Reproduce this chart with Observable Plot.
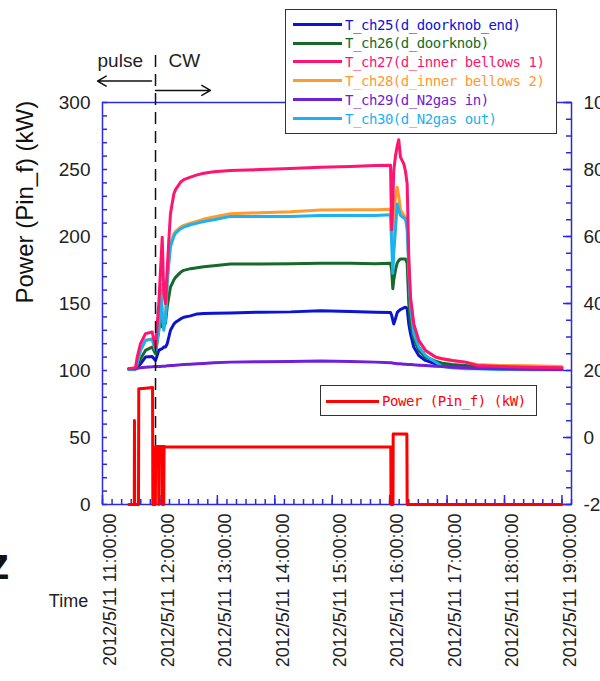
<!DOCTYPE html>
<html><head><meta charset="utf-8">
<script src="https://cdn.jsdelivr.net/npm/d3@7"></script>
<script src="https://cdn.jsdelivr.net/npm/@observablehq/plot@0.6"></script>
<style>
body{margin:0;background:#fff;}
#wrap{position:relative;width:600px;height:681px;overflow:hidden;font-family:"Liberation Sans",Arial,sans-serif;}
.box{position:absolute;background:#fff;border:1.5px solid #333;box-sizing:border-box;}
.sw{position:absolute;height:3px;}
.lab{position:absolute;font-family:"DejaVu Sans Mono",monospace;font-size:14px;line-height:14px;letter-spacing:-0.45px;white-space:nowrap;}
</style></head><body><div id="wrap"></div>
<script>
// ---------- data ----------
const seriesNames = ["T_ch25(d_doorknob_end)","T_ch26(d_doorknob)","T_ch27(d_inner bellows 1)","T_ch28(d_inner bellows 2)","T_ch29(d_N2gas in)","T_ch30(d_N2gas out)"];
const seriesColors = ["#0a14d2","#17692a","#ff1470","#ff9a30","#7020d8","#1ab2ef"];
// minutes after 2012/5/11 11:00:00
const tempMinutes = [27.5,34.5,36.3,39.7,44.9,51.9,55.4,58.8,60.6,62.4,64.0,65.8,67.6,69.3,71.0,74.5,76.3,81.5,84.9,91.9,98.9,105.8,116.3,133.7,165,196.4,227.7,259,285.2,300.9,302.1,303.3,304.3,306.1,307.9,309.5,311.3,314.8,316.5,318.3,320,321.8,325.2,330.4,337.4,347.9,354.9,365.3,379.2,391.4,415.8,447.1,480];
const ch25 = [20.3,20.4,20.8,22.0,24.0,24.2,23.0,26.0,26.3,26.5,27.0,27.0,28.0,30.0,32.0,33.8,34.4,35.4,35.9,36.3,36.9,37.0,37.1,37.2,37.4,37.5,37.8,37.6,37.4,37.3,36.5,35.0,33.9,35.5,37.3,37.8,38.2,38.7,38.9,38.5,33.9,31.0,27.0,24.5,23.0,22.0,21.5,21.2,21.0,20.7,20.5,20.4,20.3];
const ch26 = [20.5,20.6,21.5,23.5,26.0,27.0,25.0,32.0,37.9,33.0,36.0,34.0,39.0,42.0,44.9,47.0,47.8,49.3,49.9,50.4,50.7,51.0,51.3,51.8,51.8,51.9,52.0,52.0,51.9,52.0,50.0,44.4,47.0,50.0,52.1,52.8,53.3,53.3,53.3,52.0,39.9,33.9,29.5,26.0,24.0,22.8,22.2,21.8,21.5,21.2,21.0,20.9,20.8];
const ch27 = [20.5,20.8,24.0,28.0,31.0,31.5,27.0,39.9,49.9,59.8,43.0,40.0,50.0,59.0,66.8,72.7,74.0,76.2,77.0,77.7,78.4,78.9,79.3,79.7,80.0,80.3,80.7,80.9,81.2,81.3,62.0,70.0,79.7,84.0,87.0,88.9,83.7,81.7,79.5,75.7,53.8,41.9,33.9,29.0,26.0,24.0,23.5,23.0,22.5,21.5,21.2,21.0,20.8];
const ch28 = [20.5,20.6,22.5,26.0,29.0,29.5,26.0,33.0,45.9,38.0,33.0,36.0,46.9,53.0,57.8,60.8,61.5,62.8,63.3,64.0,64.6,65.2,65.8,66.8,67.1,67.4,67.9,68.0,68.0,68.1,60.0,56.0,64.0,72.0,74.7,72.0,68.0,66.3,65.8,65.3,52.0,41.0,33.5,28.8,26.0,24.0,23.5,23.0,22.5,21.8,21.5,21.4,21.2];
const ch29 = [20.5,20.6,20.7,20.8,21.0,21.1,21.2,21.2,21.2,21.3,21.3,21.3,21.4,21.4,21.5,21.5,21.6,21.7,21.8,21.9,22.0,22.1,22.3,22.5,22.6,22.7,22.8,22.7,22.5,22.3,22.3,22.2,22.2,22.1,22.0,22.0,22.0,21.9,21.9,21.8,21.8,21.8,21.7,21.6,21.5,21.3,21.2,21.0,20.8,20.6,20.5,20.4,20.3];
const ch30 = [20.3,20.4,22.3,26.0,29.0,29.3,26.0,32.0,44.0,37.0,32.0,35.0,46.0,52.0,57.0,60.0,61.0,62.3,62.8,63.5,64.0,64.5,65.0,66.0,66.0,66.0,66.3,66.3,66.3,66.5,58.0,49.0,55.0,62.0,69.7,68.0,66.3,65.5,65.4,62.0,50.0,39.0,31.0,27.0,24.5,22.5,21.2,20.8,20.5,20.5,20.3,20.2,20.2];
const powerName = "Power (Pin_f) (kW)";
const powerMinutes = [27.5,33.2,33.4,33.6,37.6,37.9,45.0,52.3,52.6,55.2,55.6,58.5,58.8,59.1,62.1,62.4,62.7,63.8,64.0,64.3,65.8,150,301.2,301.4,303.5,303.7,318.0,318.3,480];
const powerKW = [0,0,62.7,0,0,86.3,86.8,87.3,0,0,43.3,43.3,0,43.3,43.3,0,43.3,43.3,0,43.3,43.0,43.0,43.0,0,0,52.7,52.7,0,0];
const hourTicks = [0,60,120,180,240,300,360,420,480];       // minutes
const leftTicks = [0,50,100,150,200,250,300];               // kW
const rightTicks = [-20,0,20,40,60,80,100];                 // temperature
const xDomainMinutes = [0,490];
const cwStartMinute = 55.4;
const annotTexts = [{label:"pulse", m:-5.2, v:331.3},{label:"CW", m:69, v:331.3}];
const annotArrows = [{m1:51.2, m2:-5.2, v:316},{m1:55.4, m2:112.8, v:309}];
const yLabel = "Power (Pin_f) (kW)";
const xLabel = "Time";

// ---------- helpers ----------
const base = new Date(2012,4,11,11,0,0);
const tm = m => new Date(+base + m*60000);
const toLeft = T => (T + 20) * 2.5;
const fmt = d3.timeFormat("%Y/%-m/%-d %H:%M:%S");
const seriesValues = [ch25,ch26,ch27,ch28,ch29,ch30];
const frameW = 600-102-29, frameH = 681-102-177;
const axisBlue = "#2b2bdc";

const lineMarks = [];
const drawOrder = [0,1,3,5,4,2];
for (const i of drawOrder) {
  const data = tempMinutes.map((m,j)=>({t: tm(m), v: toLeft(seriesValues[i][j])}));
  lineMarks.push(Plot.line(data, {x:"t", y:"v", stroke: seriesColors[i], strokeWidth: 3}));
}
const power = powerMinutes.map((m,j)=>({t: tm(m), v: powerKW[j]}));

const minorX = d3.range(xDomainMinutes[0], xDomainMinutes[1]+1, 10).map(tm);
const majorX = hourTicks.map(tm);

const chart = Plot.plot({
  width: 600, height: 681,
  marginLeft: 102, marginRight: 29, marginTop: 102, marginBottom: 177,
  style: {fontFamily: "'Liberation Sans', Arial, sans-serif", fontSize: "19px", color: "#222", background: "transparent"},
  x: {type: "time", domain: xDomainMinutes.map(tm)},
  y: {domain: [0,300]},
  marks: [
    Plot.frame({stroke: axisBlue, strokeWidth: 1.5}),
    Plot.tickY(d3.range(0,301,10), {y: d=>d, insetRight: frameW-5, stroke: axisBlue, strokeWidth: 1.5}),
    Plot.tickY(d3.range(0,301,12.5), {y: d=>d, insetLeft: frameW-5, stroke: axisBlue, strokeWidth: 1.5}),
    Plot.tickY(rightTicks.map(toLeft), {y: d=>d, insetLeft: frameW-8, stroke: axisBlue, strokeWidth: 1.5}),
    Plot.tickX(minorX, {x: d=>d, insetTop: frameH-5, stroke: axisBlue, strokeWidth: 1.5}),
    Plot.tickX(majorX, {x: d=>d, insetTop: frameH-9, stroke: axisBlue, strokeWidth: 1.5}),
    Plot.axisY({anchor:"left", ticks: leftTicks, tickSize: 0, tickPadding: 12, label: null, fontSize: 19}),
    Plot.axisY({anchor:"right", ticks: rightTicks.map(toLeft), tickFormat: d => String(d/2.5 - 20), tickSize: 0, tickPadding: 12, label: null, fontSize: 19}),
    Plot.axisX({ticks: majorX, tickFormat: fmt, tickRotate: -90, tickSize: 0, tickPadding: 9, fontSize: 18, dx: 8, label: null}),
    Plot.text([yLabel], {frameAnchor: "left", rotate: -90, dx: -77, fontSize: 24, fill: "#111"}),
    Plot.text([xLabel], {frameAnchor: "bottom-left", dx: -34, dy: 102, lineAnchor: "bottom", textAnchor: "middle", fontSize: 18, fill: "#222"}),
    Plot.text(["z"], {frameAnchor: "bottom-left", dx: -93, dy: 74, lineAnchor: "bottom", textAnchor: "end", fontSize: 44, fontWeight: "bold", fill: "#111"}),
    ...lineMarks,
    Plot.ruleX([tm(cwStartMinute)], {x: d=>d, y1: 0, y2: 337, stroke: "#111", strokeWidth: 1.5, strokeDasharray: "12,7"}),
    Plot.arrow(annotArrows, {x1: d=>tm(d.m1), x2: d=>tm(d.m2), y1: "v", y2: "v", stroke: "#111", strokeWidth: 1.5, headLength: 10}),
    Plot.text(annotTexts, {x: d=>tm(d.m), y: "v", text: "label", textAnchor: "start", fontSize: 19, fill: "#222"}),
    Plot.line(power, {x:"t", y:"v", stroke: "#ff0000", strokeWidth: 3})
  ]
});
const wrap = document.getElementById("wrap");
wrap.appendChild(chart);

// ---------- legends ----------
function box(l,t,w,h){const b=document.createElement("div");b.className="box";Object.assign(b.style,{left:l+"px",top:t+"px",width:w+"px",height:h+"px"});wrap.appendChild(b);}
function entry(x0,x1,xt,cy,color,name){
  const s=document.createElement("div");s.className="sw";Object.assign(s.style,{left:x0+"px",width:(x1-x0)+"px",top:(cy-1.5)+"px",background:color});wrap.appendChild(s);
  const t=document.createElement("div");t.className="lab";t.textContent=name;Object.assign(t.style,{left:xt+"px",top:(cy-6.7)+"px",color:color});wrap.appendChild(t);
}
box(285,9,272,125);
seriesNames.forEach((n,i)=>entry(293,342,345,24.2+i*18.85,seriesColors[i],n));
box(320,385,217,31);
entry(326,379,382,401,"#ff0000",powerName);
</script></body></html>
